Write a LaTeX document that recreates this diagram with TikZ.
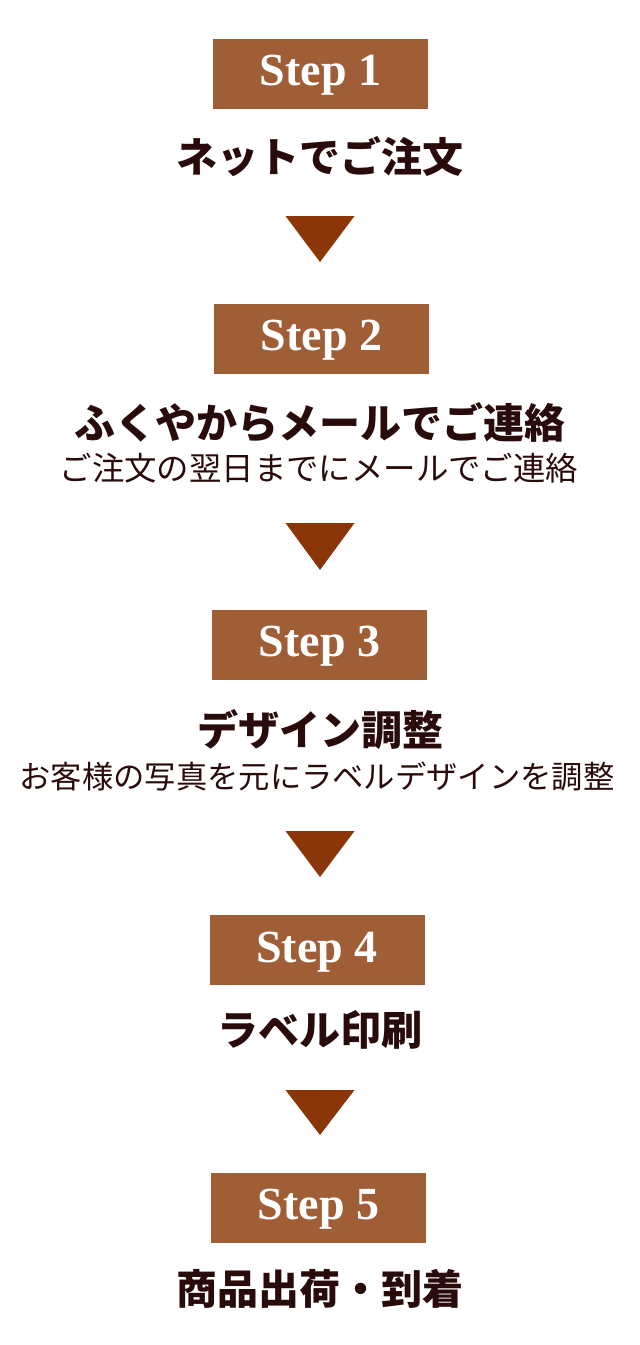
\documentclass[tikz,border=0pt]{standalone}
\usepackage{fontspec}
\setmainfont{Liberation Serif}
\newfontfamily\jpfont{Noto Sans CJK JP}
\definecolor{stepbrown}{HTML}{A05E37}
\definecolor{arrowbrown}{HTML}{8A3606}
\definecolor{textdark}{HTML}{2A0B0B}
\begin{document}
\begin{tikzpicture}[x=1pt, y=-1pt,
        stepbox/.style={fill=stepbrown, text=white, minimum width=215pt, minimum height=70pt,
          inner sep=0pt, text height=24pt, text depth=0pt,
          font=\fontsize{46}{46}\selectfont\bfseries},
        titlelbl/.style={text=textdark, inner sep=0pt, font=\jpfont\fontsize{41}{41}\selectfont\bfseries},
        sublbl/.style={text=textdark, inner sep=0pt, font=\jpfont\fontsize{32.4}{32}\selectfont},
        downtri/.style={fill=arrowbrown}
      ]
      \useasboundingbox (0,0) rectangle (640,1345);
      % step boxes with their titles
      \foreach \n/\x/\y/\ty/\ttl in {%
        1/320.5/73.5/157/ネットでご注文,
        2/321.5/338.5/423/ふくやからメールでご連絡,
        3/319.5/644.5/730/デザイン調整,
        4/317/950/1030/ラベル印刷,
        5/318.5/1207.5/1289/商品出荷・到着%
      }{
        \node[stepbox] (box\n) at (\x,\y) {Step \n};
        \node[titlelbl] (title\n) at (320,\ty) {\ttl};
      }
      \node[sublbl] (sub2) at (319,468) {ご注文の翌日までにメールでご連絡};
      \node[sublbl, font=\jpfont\fontsize{31.3}{31}\selectfont] (sub3) at (317,777)
        {お客様の写真を元にラベルデザインを調整};
      % arrows between the steps
      \foreach \t/\b in {216/262, 523/570, 831/877, 1090/1135} {
        \fill[downtri] (285.5,\t) -- (354.5,\t) -- (320,\b) -- cycle;
      }
    \end{tikzpicture}
\end{document}
